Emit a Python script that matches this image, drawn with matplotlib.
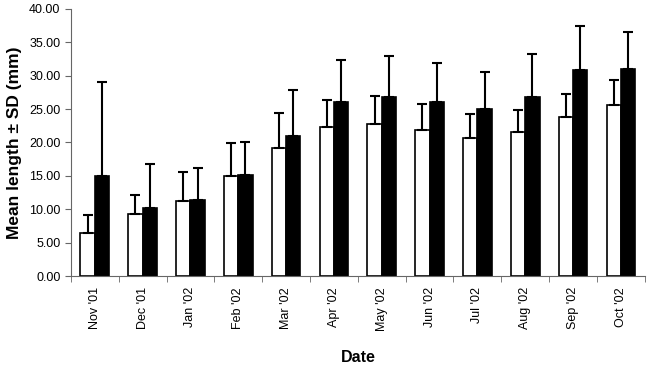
import numpy as np
import matplotlib
matplotlib.use('Agg')
import matplotlib.pyplot as plt

plt.rcParams['font.family'] = ['Liberation Sans', 'DejaVu Sans']

# Datos
months = ["Nov '01", "Dec '01", "Jan '02", "Feb '02", "Mar '02", "Apr '02",
          "May '02", "Jun '02", "Jul '02", "Aug '02", "Sep '02", "Oct '02"]
white_mean = [6.5, 9.3, 11.3, 15.0, 19.2, 22.3, 22.8, 21.9, 20.7, 21.5, 23.8, 25.6]
white_sd = [2.6, 2.9, 4.3, 4.9, 5.2, 4.0, 4.2, 3.9, 3.6, 3.3, 3.4, 3.7]
black_mean = [15.0, 10.2, 11.4, 15.1, 21.0, 26.1, 26.8, 26.0, 25.0, 26.8, 30.8, 31.0]
black_sd = [14.0, 6.5, 4.7, 5.0, 6.9, 6.2, 6.1, 5.9, 5.6, 6.5, 6.7, 5.5]

x = np.arange(len(months))
w = 0.3

fig = plt.figure(figsize=(6.5, 3.69), dpi=100)
ax = fig.add_axes([0.109, 0.252, 0.883, 0.724])

err_kw = dict(ecolor='black', elinewidth=1.5, capsize=3.5, capthick=1.5)
ax.bar(x - w / 2, white_mean, w, color='white', edgecolor='black', linewidth=1.2,
       yerr=[np.zeros(len(x)), white_sd], error_kw=err_kw, zorder=2)
ax.bar(x + w / 2, black_mean, w, color='black', edgecolor='black', linewidth=1.2,
       yerr=[np.zeros(len(x)), black_sd], error_kw=err_kw, zorder=2)

ax.set_xlim(-0.5, len(months) - 0.5)
ax.set_ylim(0, 40)
ax.set_yticks(np.arange(0, 40.01, 5))
ax.set_yticklabels([f'{v:.2f}' for v in np.arange(0, 40.01, 5)], fontsize=9)
ax.set_xticks(x)
ax.set_xticklabels(months, rotation=90, fontsize=9)
ax.set_xticks(np.arange(-0.5, len(months)), minor=True)
ax.tick_params(axis='x', which='major', length=0, pad=8)
ax.tick_params(axis='x', which='minor', length=4, color='#666666')
ax.tick_params(axis='y', length=4, color='#666666')

for s in ['top', 'right']:
    ax.spines[s].set_visible(False)
for s in ['left', 'bottom']:
    ax.spines[s].set_color('#666666')

ax.set_ylabel('Mean length ± SD (mm)', fontsize=12.5, fontweight='bold', labelpad=5)
ax.set_xlabel('Date', fontsize=11.5, fontweight='bold', labelpad=14)

fig.savefig('out.png', dpi=100)
